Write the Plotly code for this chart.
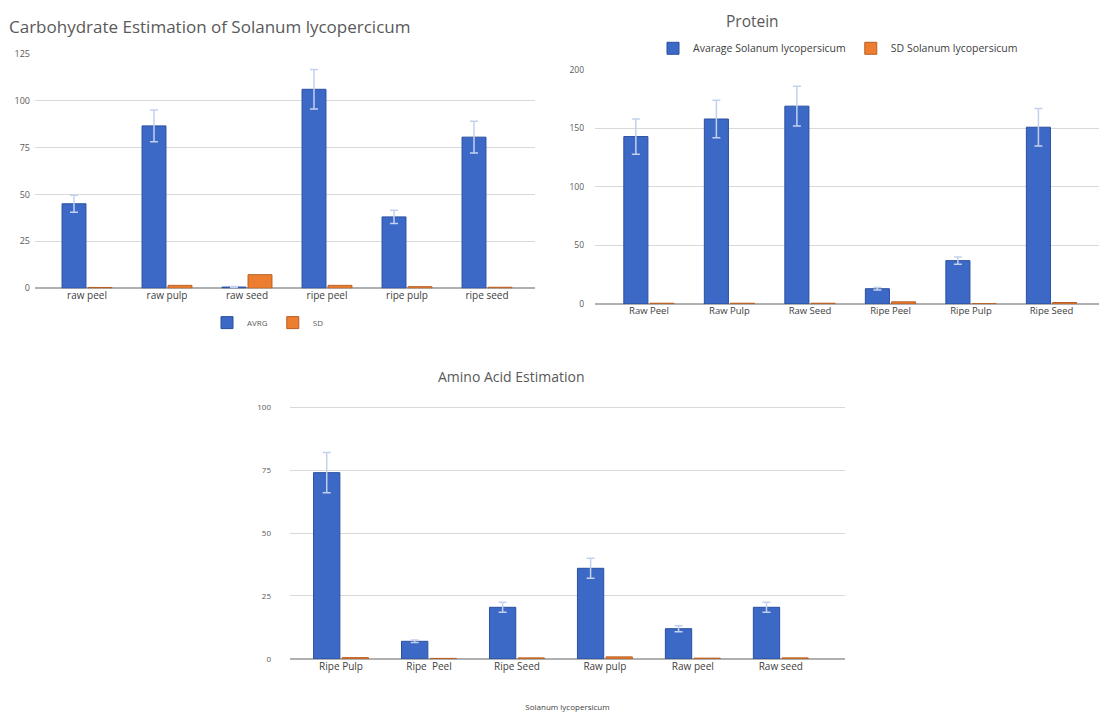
import plotly.graph_objects as go

# ---------- data ----------
carb_categories = ["raw peel", "raw pulp", "raw seed", "ripe peel", "ripe pulp", "ripe seed"]
carb_avrg = [45, 86.5, 0.6, 106, 38, 80.5]
carb_avrg_err = [4.5, 8.5, 0.3, 10.5, 3.5, 8.5]
carb_sd = [0.4, 1.5, 7.2, 1.5, 0.8, 0.5]

protein_categories = ["Raw Peel", "Raw Pulp", "Raw Seed", "Ripe Peel", "Ripe Pulp", "Ripe Seed"]
protein_avg = [143, 158, 169, 13, 37, 151]
protein_avg_err = [15, 16, 17, 1, 3, 16]
protein_sd = [0.6, 0.6, 0.6, 1.8, 0.2, 1.2]

amino_categories = ["Ripe Pulp", "Ripe  Peel", "Ripe Seed", "Raw pulp", "Raw peel", "Raw seed"]
amino_avg = [74, 7, 20.5, 36, 12, 20.5]
amino_avg_err = [8, 0.5, 2, 4, 1.2, 2]
amino_sd = [0.5, 0.2, 0.4, 0.8, 0.3, 0.4]

BLUE = "#3d69c6"
BLUE_EDGE = "#2a4f9e"
ORANGE = "#ed7d31"
ORANGE_EDGE = "#b85f22"
ERR = "#c3d1ee"
GRID = "#d9d9d9"
FONT = "Open Sans"

W, H = 1099, 718
def px(x):
    return x / W
def py(y):
    return 1 - y / H

fig = go.Figure()

def add_pair(cats, avg, err, sd, xa, ya, name_a, name_s, legend, show):
    fig.add_trace(go.Bar(
        x=cats, y=avg, name=name_a, xaxis=xa, yaxis=ya,
        marker=dict(color=BLUE, line=dict(color=BLUE_EDGE, width=1)),
        error_y=dict(type="data", array=err, visible=True, color=ERR, thickness=1.5, width=4),
        legend=legend, showlegend=show,
    ))
    fig.add_trace(go.Bar(
        x=cats, y=sd, name=name_s, xaxis=xa, yaxis=ya,
        marker=dict(color=ORANGE, line=dict(color=ORANGE_EDGE, width=1)),
        legend=legend, showlegend=show,
    ))

add_pair(carb_categories, carb_avrg, carb_avrg_err, carb_sd, "x", "y", "AVRG", "SD", "legend", True)
add_pair(protein_categories, protein_avg, protein_avg_err, protein_sd, "x2", "y2",
         "Avarage Solanum lycopersicum", "SD Solanum lycopersicum", "legend2", True)
add_pair(amino_categories, amino_avg, amino_avg_err, amino_sd, "x3", "y3", "AVRG", "SD", "legend", False)

def yax(domain, rng, dtick, standoff, anchor, fsize):
    return dict(domain=domain, range=rng, dtick=dtick, anchor=anchor, showgrid=True,
                gridcolor=GRID, gridwidth=1,
                zeroline=True, zerolinecolor="#b0b0b0", zerolinewidth=1.5, showline=False,
                tickfont=dict(family=FONT, size=fsize, color="#595959"),
                ticks="", ticklabelstandoff=standoff, fixedrange=True)

def xax(domain, rng, anchor, fsize):
    return dict(domain=domain, range=rng, type="category", anchor=anchor, showgrid=False,
                showline=False, ticks="", tickfont=dict(family=FONT, size=fsize, color="#404040"),
                fixedrange=True)

fig.update_layout(
    width=W, height=H,
    margin=dict(l=0, r=0, t=0, b=0),
    paper_bgcolor="white", plot_bgcolor="white",
    barmode="group", bargap=0.35, bargroupgap=0.08,
    font=dict(family=FONT, color="#595959"),
    xaxis=xax([px(35), px(535)], [-0.65, 5.6], "y", 10),
    yaxis=yax([py(287), py(47.5)], [0, 125.5], 25, 4, "x", 9),
    xaxis2=xax([px(595), px(1099)], [-0.67, 5.59], "y2", 9.5),
    yaxis2=yax([py(303), py(64)], [0, 200.8], 50, 10, "x2", 8.5),
    xaxis3=xax([px(290), px(845)], [-0.58, 5.73], "y3", 10),
    yaxis3=yax([py(664), py(407)], [0, 100.4], 25, 18, "x3", 8),
    legend=dict(orientation="h", x=px(268), y=py(322), xanchor="center", yanchor="middle",
                font=dict(family=FONT, size=8, color="#595959"), itemwidth=30,
                bgcolor="rgba(0,0,0,0)"),
    legend2=dict(orientation="h", x=px(838), y=py(43), xanchor="center", yanchor="middle",
                 font=dict(family=FONT, size=10.5, color="#404040"), itemwidth=30,
                 bgcolor="rgba(0,0,0,0)"),
)

fig.update_layout(xaxis3_title=dict(text="Solanum lycopersicum",
                                    font=dict(family=FONT, size=8, color="#404040"), standoff=32))

annotations = [
    dict(text="Carbohydrate Estimation of Solanum lycopercicum", x=px(7), y=py(21),
         xanchor="left", yanchor="middle", font=dict(family=FONT, size=17, color="#595959")),
    dict(text="Protein", x=px(752), y=py(15), xanchor="center", yanchor="middle",
         font=dict(family=FONT, size=15.5, color="#595959")),
    dict(text="Amino Acid Estimation", x=px(511), y=py(377), xanchor="center", yanchor="middle",
         font=dict(family=FONT, size=14, color="#595959")),
]
for a in annotations:
    a.update(xref="paper", yref="paper", showarrow=False)
fig.update_layout(annotations=annotations)

fig.write_html("out.html", config={"displayModeBar": False},
               post_script="document.body.style.margin='0';document.body.style.padding='0';")
